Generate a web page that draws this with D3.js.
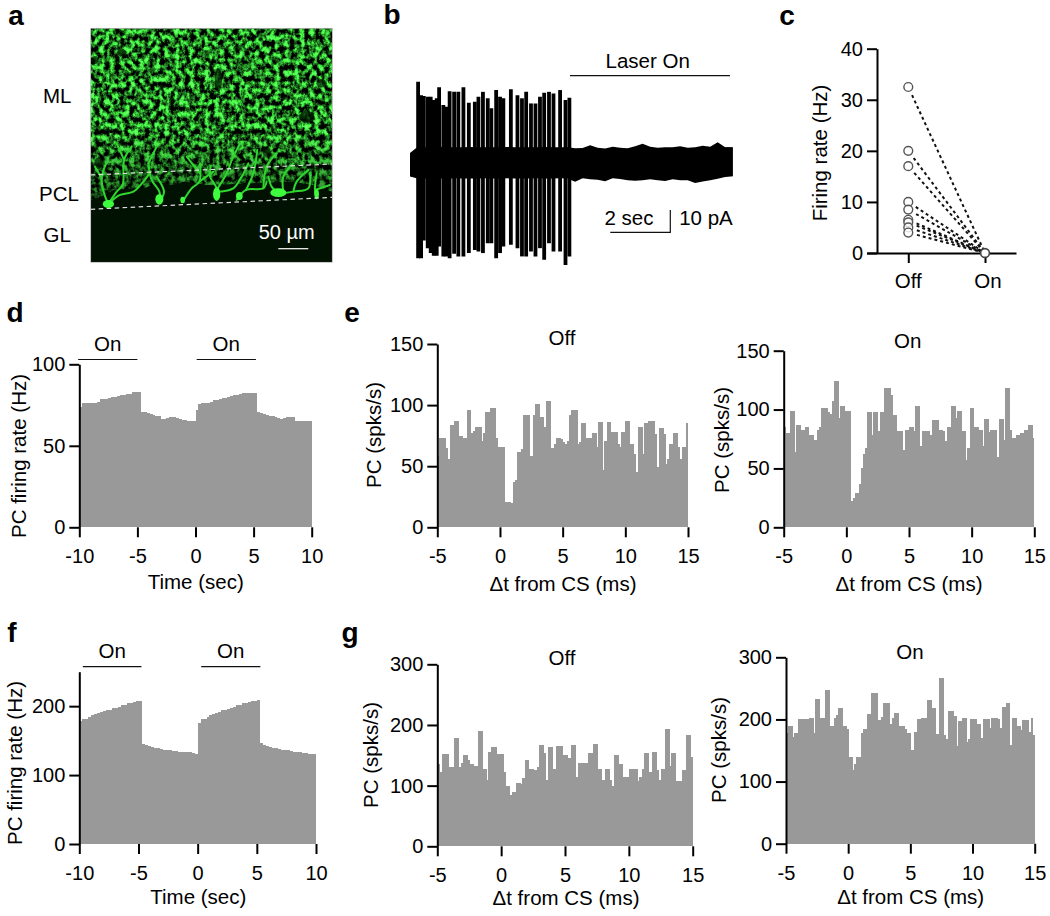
<!DOCTYPE html>
<html>
<head>
<meta charset="utf-8">
<script src="https://cdn.jsdelivr.net/npm/d3@7"></script>
<style>
  html, body { margin: 0; padding: 0; background: #fff; }
  svg { display: block; }
  text { font-family: "Liberation Sans", Arial, sans-serif; fill: #000; }
</style>
</head>
<body>
<svg id="fig" width="1050" height="916"></svg>
<script>
// panel b: trace
const spikeT = [0.27,0.37,0.46,0.59,0.69,0.79,0.89,0.97,1.11,1.21,1.32,1.47,1.61,1.78,1.96,2.16,2.28,2.43,2.59,2.71,2.87,3.00,3.11,3.36,3.58,3.73,3.87,4.03,4.18,4.33,4.47,4.63,4.78,5.00,5.18,5.31];
const spikeUp = [36.1,30.1,29.7,29.4,29.4,27.9,28.7,33.6,25.7,24.9,31.9,31.6,31.6,33.6,26.7,27.2,29.4,31.6,28.7,24.2,32.4,29.4,28.7,32.8,30.1,28.7,31.6,26.4,26.4,29.4,31.2,31.6,30.9,32.4,27.9,29.0];
const spikeDown = [43,43,35.1,38.5,40.7,41.9,41.9,37.8,42.2,42.2,43,41,42.2,42.2,40.7,39.3,40,40.7,36.3,36.3,43,40.7,37.8,37,38.5,42.2,42.2,40,42.2,38.5,43.7,36.3,40,40,46,42.2];
const noiseUp = [4.2,6.9,6.7,6.7,6.9,6.7,6.8,6.7,6.9,6.7,6.7,6.8,6.7,6.9,6.7,6.7,6.8,6.7,6.9,6.7,6.7,6.7,6.3,6.4,7.6,6.5,6.2,7,6.5,6.3,7.2,8.3,7,6.5,6.7,6.7,7.2,6.5,6.7,7.4,7,9,6.7,6.7];
const noiseDown = [6.4,7.3,7.3,7.2,7.3,7.3,7.2,7.3,7.3,7.3,7.2,7.3,7.3,7.2,7.3,7.3,7.3,7.2,7.3,7.3,7.2,7.3,8.7,7.2,7.6,7.8,8.5,7.2,7.5,8,8.3,8,7.6,8,8.4,7.6,8.1,8,9.3,8.6,8,7.4,6.6,6.2];

// panel c: firing rate per cell
const conditions = ["Off", "On"];
const rateOff = [32.5, 20, 17, 10, 8.5, 6.5, 6, 5, 4];
const rateOn = [0, 0, 0, 0, 0, 0, 0, 0, 0];

// panels d, f: PSTH, 0.25 s bins
const psthD = [74,76,76,76,76.5,76.5,77,78.5,78.5,79,79.5,80,80,80.5,81,81,81.5,82,82.7,82.7,82.7,71,70.5,70,69.5,69,68.5,68.5,66.5,66.5,67,67.5,67.5,67,66.5,66,66,65.5,65.5,65.5,72,75.5,76,76,76.5,77,78,78,78.5,79.5,79.5,80,80.5,81,81,81.5,82.6,82.6,82.6,82.6,82.6,70.5,70,69.5,69,68.5,68,67.5,67,66.7,67,67.5,67.5,67.5,65.5,65.5,65.5,65.5,65.5,65.5];
const psthF = [178,181,182,184,187,188,190,192,193,194,195,197,198,199,201,202,204,205,206,207,208,145,144,142,141,140,139,138,137,136,136,135,135,134,134,133,133,133,132,131,175,181,182,184,187,189,190,192,195,195,196,198,199,201,202,204,205,206,207,208,209,146,144,142,141,140,139,138,137,137,136,135,134,134,133,132,132,131,131,130];
const onWindowsD = [[-10.1, -5.0], [0.1, 5.2]];
const onWindowsF = [[-9.7, -4.75], [0.3, 5.3]];

// panels e, g: CS-aligned histograms, 120 bins over -5..15 ms
const histEOff = [58,73,73,73,65,56,84,84,87,87,75,75,73,73,96,96,77,79,82,82,82,71,77,94,94,98,98,98,73,66,66,66,21,21,21,20,37,39,62,62,64,92,92,92,58,58,92,101,101,90,90,82,103,103,65,65,68,73,73,72,70,68,71,92,96,96,96,68,70,85,85,73,73,73,77,77,66,86,86,47,71,86,86,78,78,78,68,66,78,78,87,87,68,68,60,45,82,82,60,85,85,87,87,87,76,49,81,81,76,52,56,68,68,77,77,66,56,66,66,85];
const histEOn = [85,80,80,99,99,64,87,87,83,83,85,85,78,78,74,74,83,85,101,101,101,98,96,107,124,124,93,103,103,99,99,99,22,25,29,29,37,50,62,67,98,98,78,98,98,82,98,98,118,118,118,112,95,95,82,82,82,66,83,83,85,85,82,103,103,69,82,82,82,82,78,91,91,91,83,83,82,73,85,85,103,103,93,99,99,82,82,57,67,101,101,85,85,83,83,69,92,92,81,83,83,83,60,92,92,74,118,118,83,76,76,78,78,80,80,83,83,87,87,76];
const histGOff = [136,123,152,152,152,130,130,130,179,179,130,137,150,150,143,135,135,133,133,190,190,128,128,109,155,164,164,164,152,152,152,122,100,100,85,90,90,105,105,102,113,142,142,128,128,125,125,130,167,167,153,110,164,164,127,127,165,165,165,150,150,146,146,167,167,115,138,138,138,138,138,153,153,169,169,128,128,110,110,128,128,110,100,150,150,136,136,115,115,115,128,128,128,128,108,115,127,153,153,122,122,155,155,125,110,128,128,194,194,132,153,153,107,107,107,125,125,183,183,147];
const histGOn = [178,190,190,172,178,178,200,200,200,200,201,203,203,178,233,233,203,203,203,247,247,190,190,203,207,219,219,189,189,184,140,140,118,129,139,139,178,184,184,209,209,243,243,243,199,199,204,226,226,226,193,203,211,211,189,189,189,184,178,178,151,151,180,201,201,203,203,203,232,232,218,218,176,176,266,266,175,168,214,214,214,205,157,197,197,203,203,163,168,200,200,200,193,193,170,200,200,200,186,203,203,203,200,187,220,220,227,227,159,203,203,190,190,183,199,199,199,180,203,175];

const timeTicks = [-10, -5, 0, 5, 10];
const lagTicks = [-5, 0, 5, 10, 15];

const grey = "#999999";
const fontSize = 20.5;
const svg = d3.select("#fig");
const defs = svg.append("defs");

function label(parent, x, y, txt, size, opts) {
  const o = opts || {};
  const t = parent.append("text")
    .attr("text-anchor", o.anchor || "middle")
    .attr("dominant-baseline", "central")
    .attr("font-size", size)
    .attr("font-weight", o.weight || "normal")
    .text(txt);
  if (o.rotate) t.attr("transform", `translate(${x},${y}) rotate(${o.rotate})`);
  else t.attr("x", x).attr("y", y);
  if (o.fill) t.style("fill", o.fill);
  return t;
}

function styleAxis(g) {
  g.selectAll("path.domain").attr("stroke", "#000").attr("stroke-width", 2);
  g.selectAll(".tick line").attr("stroke", "#000").attr("stroke-width", 2);
  g.selectAll(".tick text").attr("font-size", 20).attr("font-family", '"Liberation Sans", Arial, sans-serif').attr("fill", "#000");
}

// histogram panel: bars sit on top of the x ticks, spine on top of the bars
function histPanel(cfg) {
  const x = d3.scaleLinear().domain(cfg.xDomain).range([cfg.left, cfg.right]);
  const y = d3.scaleLinear().domain(cfg.yDomain).range([cfg.base, cfg.top]);
  const bw = (cfg.xDomain[1] - cfg.xDomain[0]) / cfg.values.length;
  const step = x(bw) - x(0);

  const ax = svg.append("g").attr("transform", `translate(0,${cfg.base})`)
    .call(d3.axisBottom(x).tickValues(cfg.xTicks).tickFormat(d => String(d)).tickSize(10).tickSizeOuter(0).tickPadding(12));
  ax.select("path.domain").remove();
  styleAxis(ax);

  svg.append("g").attr("shape-rendering", "crispEdges").selectAll("rect").data(cfg.values).join("rect")
    .attr("x", (d, i) => x(cfg.xDomain[0] + i * bw))
    .attr("y", d => y(d))
    .attr("width", (d, i) => i === cfg.values.length - 1 ? step : step + 0.6)
    .attr("height", d => cfg.base - y(d))
    .attr("fill", grey);

  const ay = svg.append("g").attr("transform", `translate(${cfg.left},0)`)
    .call(d3.axisLeft(y).tickValues(cfg.yTicks).tickFormat(d => String(d)).tickSize(10).tickSizeOuter(0).tickPadding(4));
  styleAxis(ay);

  label(svg, cfg.ylab[0], cfg.ylab[1], cfg.ylab[2], fontSize, { rotate: -90 });
  label(svg, cfg.xlab[0], cfg.xlab[1], cfg.xlab[2], fontSize);
  if (cfg.title) label(svg, cfg.title[0], cfg.title[1], cfg.title[2], fontSize);
  if (cfg.on) {
    cfg.on.forEach(w => {
      svg.append("line").attr("x1", x(w[0])).attr("x2", x(w[1]))
        .attr("y1", cfg.onY).attr("y2", cfg.onY).attr("stroke", "#111").attr("stroke-width", 1.2);
      label(svg, (x(w[0]) + x(w[1])) / 2, cfg.onY - 16.5, "On", fontSize);
    });
  }
}

histPanel({ values: psthD, xDomain: [-10, 10], yDomain: [0, 100], left: 79.3, right: 311.7, base: 527.3, top: 364.3,
  xTicks: timeTicks, yTicks: [0, 50, 100], ylab: [18.5, 456, "PC firing rate (Hz)"], xlab: [195.7, 581.5, "Time (sec)"],
  on: onWindowsD, onY: 359.5 });
histPanel({ values: psthF, xDomain: [-10, 10], yDomain: [0, 250], left: 79.3, right: 316, base: 844, top: 671.7,
  xTicks: timeTicks, yTicks: [0, 100, 200], ylab: [14, 763, "PC firing rate (Hz)"], xlab: [198.3, 896.7, "Time (sec)"],
  on: onWindowsF, onY: 666.7 });
histPanel({ values: histEOff, xDomain: [-5, 15], yDomain: [0, 150], left: 437.3, right: 688, base: 527.3, top: 344,
  xTicks: lagTicks, yTicks: [0, 50, 100, 150], ylab: [373, 435, "PC (spks/s)"], xlab: [563, 583, "Δt from CS (ms)"], title: [562, 337, "Off"] });
histPanel({ values: histEOn, xDomain: [-5, 15], yDomain: [0, 150], left: 783.7, right: 1034.3, base: 527.3, top: 350.7,
  xTicks: lagTicks, yTicks: [0, 50, 100, 150], ylab: [721.7, 440, "PC (spks/s)"], xlab: [909, 583, "Δt from CS (ms)"], title: [907.7, 340.7, "On"] });
histPanel({ values: histGOff, xDomain: [-5, 15], yDomain: [0, 300], left: 437.3, right: 692.7, base: 846.3, top: 664.3,
  xTicks: lagTicks, yTicks: [0, 100, 200, 300], ylab: [370, 755, "PC (spks/s)"], xlab: [566, 897.7, "Δt from CS (ms)"], title: [562, 657.7, "Off"] });
histPanel({ values: histGOn, xDomain: [-5, 15], yDomain: [0, 300], left: 786, right: 1034.7, base: 843.7, top: 657.3,
  xTicks: lagTicks, yTicks: [0, 100, 200, 300], ylab: [718.3, 750, "PC (spks/s)"], xlab: [910.7, 896.7, "Δt from CS (ms)"], title: [910, 651, "On"] });

// panel c
{
  const x = d3.scalePoint().domain(conditions).range([866.7, 1016]).padding(0.473).align(0.573);
  const y = d3.scaleLinear().domain([0, 40]).range([253, 48.7]);
  const ax = svg.append("g").attr("transform", "translate(0,253)")
    .call(d3.axisBottom(x).tickSize(10).tickSizeOuter(0).tickFormat(() => ""));
  styleAxis(ax);
  const ay = svg.append("g").attr("transform", "translate(877,0)")
    .call(d3.axisLeft(y).tickValues([0, 10, 20, 30, 40]).tickFormat(d => String(d)).tickSize(10).tickSizeOuter(0).tickPadding(4));
  styleAxis(ay);
  label(svg, 819.3, 153, "Firing rate (Hz)", fontSize, { rotate: -90 });
  label(svg, 908.3, 280.7, "Off", fontSize);
  label(svg, 988, 280.7, "On", fontSize);

  // dashes start clear of the open circle
  const startGap = 9;
  const startFrac = (d, i) => startGap / Math.hypot(x("On") - x("Off"), y(rateOn[i]) - y(d));
  svg.append("g").selectAll("line").data(rateOff).join("line")
    .attr("x1", (d, i) => x("Off") + (x("On") - x("Off")) * startFrac(d, i))
    .attr("y1", (d, i) => y(d) + (y(rateOn[i]) - y(d)) * startFrac(d, i))
    .attr("x2", x("On")).attr("y2", (d, i) => y(rateOn[i]))
    .attr("stroke", "#111").attr("stroke-width", 2).attr("stroke-dasharray", "3 3");
  svg.append("g").selectAll("circle").data(rateOff).join("circle")
    .attr("cx", x("Off")).attr("cy", d => y(d)).attr("r", 4.4)
    .attr("fill", "#fff").attr("fill-opacity", 0.8).attr("stroke", "#555").attr("stroke-width", 1.4);
  svg.append("circle").attr("cx", x("On")).attr("cy", y(rateOn[0])).attr("r", 4.4)
    .attr("fill", "#fff").attr("stroke", "#444").attr("stroke-width", 1.6);
}

// panel b
{
  const x = d3.scaleLinear().domain([0, 10.75]).range([410, 732.7]);
  const y = d3.scaleLinear().domain([0, 10]).range([162.3, 140]);
  const band = d3.area()
    .x((d, i) => x(i * 0.25)).y0((d, i) => y(-noiseDown[i])).y1(d => y(d));
  svg.append("path").datum(noiseUp).attr("d", band).attr("fill", "#000");
  svg.append("rect").attr("x", x(10.5)).attr("width", x(10.75) - x(10.5))
    .attr("y", y(noiseUp[43])).attr("height", y(-noiseDown[43]) - y(noiseUp[43])).attr("fill", "#000");
  svg.append("g").selectAll("line").data(spikeT).join("line")
    .attr("x1", d => x(d)).attr("x2", d => x(d))
    .attr("y1", (d, i) => y(spikeUp[i])).attr("y2", (d, i) => y(-spikeDown[i]))
    .attr("stroke", "#000").attr("stroke-width", 3.8);

  svg.append("line").attr("x1", 570).attr("x2", 730).attr("y1", 75.7).attr("y2", 75.7).attr("stroke", "#111").attr("stroke-width", 1.2);
  label(svg, 647.7, 60, "Laser On", fontSize);
  label(svg, 629, 217.3, "2 sec", fontSize);
  label(svg, 706, 217.3, "10 pA", fontSize);
  const sx = 670.3, sy = 232.3;
  svg.append("path").attr("fill", "none").attr("stroke", "#111").attr("stroke-width", 1.2)
    .attr("d", d3.line()([[sx - (x(2) - x(0)), sy], [sx, sy], [sx, sy - (y(0) - y(10))]]));
}

// panel a: micrograph, drawn in the crop's own pixel coordinates
const somata = [[325,612,17,12],[478,598,12,16],[548,600,7,10],[650,582,11,20],[718,588,10,12],[835,578,24,13],[950,582,7,14]];
const dendrites = [
  [[325,612],[312,580],[305,535],[318,490]], [[325,612],[360,585],[400,575],[430,545],[452,515]],
  [[325,612],[350,575],[368,555],[372,480],[395,440]], [[480,605],[478,575],[455,540],[445,490]],
  [[482,600],[492,575],[470,530]], [[548,605],[575,565],[598,545],[600,490]], [[598,545],[640,515]],
  [[650,600],[650,565],[630,530],[632,500]], [[650,570],[680,520],[695,480]], [[655,575],[700,565],[725,530],[745,490]],
  [[710,600],[738,570],[790,565],[800,545]], [[738,570],[760,520],[772,450]], [[790,565],[800,500],[830,460]],
  [[835,580],[815,560],[805,530]], [[835,582],[880,575],[925,565],[930,520]], [[880,575],[890,545],[925,510]],
  [[850,575],[850,530],[880,490]], [[950,595],[945,570],[950,520]], [[945,570],[990,555]],
  [[305,535],[285,500]], [[600,520],[560,470]], [[695,480],[720,430]], [[372,480],[350,430]], [[445,490],[470,440]]
];
const darkSpots = [[655,240,11,36],[365,158,14,10],[285,180,10,12],[920,350,22,18],[295,490,12,18],[590,468,6,6],[800,455,12,16],[965,250,16,12]];
const neuropilEdge = [[272,85],[997,85],[997,575],[940,555],[880,545],[790,548],[700,552],[620,555],[560,545],[520,555],[470,545],[440,562],[400,565],[340,570],[300,590],[272,600]];
const upperDash = [[272,525],[997,492]];
const lowerDash = [[272,628],[997,592]];

{
  const fx = d3.scaleLinear().domain([272, 997]).range([90.7, 332.3]);
  const fy = d3.scaleLinear().domain([85, 787]).range([28.3, 262.3]);
  const line = d3.line().x(d => fx(d[0])).y(d => fy(d[1]));

  const filt = defs.append("filter").attr("id", "neuropil").attr("x", 0).attr("y", 0).attr("width", 1).attr("height", 1)
    .attr("color-interpolation-filters", "sRGB");
  filt.append("feTurbulence").attr("type", "fractalNoise").attr("baseFrequency", "0.2 0.17").attr("numOctaves", 4).attr("seed", 23);
  filt.append("feColorMatrix").attr("type", "matrix").attr("values",
    "0.9 0 0 0 -0.33  3 0 0 0 -1.05  0.9 0 0 0 -0.33  0 0 0 0 1");
  filt.append("feGaussianBlur").attr("stdDeviation", 0.6);

  defs.append("clipPath").attr("id", "ml-clip").append("path").attr("d", line(neuropilEdge) + "Z");
  defs.append("clipPath").attr("id", "frame-clip").append("rect")
    .attr("x", fx(272)).attr("y", fy(85)).attr("width", fx(997) - fx(272)).attr("height", fy(787) - fy(85));
  const grad = defs.append("linearGradient").attr("id", "ml-fade").attr("x1", 0).attr("x2", 0).attr("y1", 0).attr("y2", 1);
  grad.append("stop").attr("offset", 0.6).attr("stop-color", "#000").attr("stop-opacity", 0);
  grad.append("stop").attr("offset", 0.98).attr("stop-color", "#000").attr("stop-opacity", 0.5);
  const glow = defs.append("filter").attr("id", "soft");
  glow.append("feGaussianBlur").attr("stdDeviation", 0.5);

  const g = svg.append("g").attr("clip-path", "url(#frame-clip)");
  g.append("rect").attr("x", fx(272)).attr("y", fy(85)).attr("width", fx(997) - fx(272)).attr("height", fy(787) - fy(85)).attr("fill", "#021202");
  const ml = g.append("g").attr("clip-path", "url(#ml-clip)");
  ml.append("rect").attr("x", fx(272)).attr("y", fy(85)).attr("width", fx(997) - fx(272)).attr("height", fy(600) - fy(85))
    .attr("filter", "url(#neuropil)");
  ml.selectAll("ellipse").data(darkSpots).join("ellipse")
    .attr("cx", d => fx(d[0])).attr("cy", d => fy(d[1]))
    .attr("rx", d => fx(d[2]) - fx(0)).attr("ry", d => fy(d[3]) - fy(0))
    .attr("fill", "#041a04").attr("fill-opacity", 0.7).attr("filter", "url(#soft)");
  ml.append("rect").attr("x", fx(272)).attr("y", fy(85)).attr("width", fx(997) - fx(272)).attr("height", fy(600) - fy(85))
    .attr("fill", "url(#ml-fade)");

  const cells = g.append("g").attr("filter", "url(#soft)");
  cells.selectAll("path").data(dendrites).join("path")
    .attr("d", d3.line().curve(d3.curveCatmullRom).x(d => fx(d[0])).y(d => fy(d[1])))
    .attr("fill", "none").attr("stroke", "#2fd62f").attr("stroke-width", 2).attr("stroke-linecap", "round");
  cells.selectAll("ellipse").data(somata).join("ellipse")
    .attr("cx", d => fx(d[0])).attr("cy", d => fy(d[1]))
    .attr("rx", d => fx(d[2]) - fx(0)).attr("ry", d => fy(d[3]) - fy(0))
    .attr("fill", "#3dfb3d");

  [upperDash, lowerDash].forEach(d => {
    g.append("path").attr("d", line(d)).attr("fill", "none").attr("stroke", "#ddd")
      .attr("stroke-width", 1.2).attr("stroke-dasharray", "4.5 3.5");
  });
  svg.append("rect").attr("x", fx(272)).attr("y", fy(85)).attr("width", fx(997) - fx(272)).attr("height", fy(787) - fy(85))
    .attr("fill", "none").attr("stroke", "#b5b5b5").attr("stroke-width", 0.7);

  label(svg, 57.3, 95, "ML", fontSize);
  label(svg, 59, 193.3, "PCL", fontSize);
  label(svg, 57.3, 234.3, "GL", fontSize);
  label(svg, 286.7, 231.7, "50 µm", 20, { fill: "#fff" });
  svg.append("line").attr("x1", 278.3).attr("x2", 308.3).attr("y1", 248.7).attr("y2", 248.7).attr("stroke", "#fff").attr("stroke-width", 1.2);
}

// panel letters
const panelLetters = ["a", "b", "c", "d", "e", "f", "g"];
const letterX = [16, 392, 787, 15, 352, 12, 350];
const letterY = [15, 14, 15, 312, 312, 632, 632];
panelLetters.forEach((l, i) => label(svg, letterX[i], letterY[i], l, 28, { weight: "bold" }));
</script>
</body>
</html>
